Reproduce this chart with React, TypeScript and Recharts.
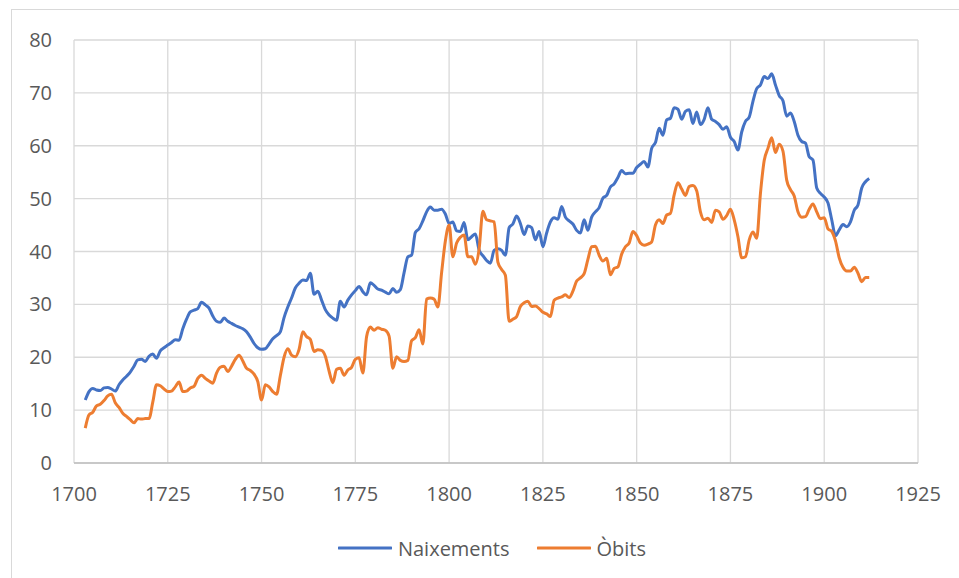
import { LineChart, Line, XAxis, YAxis, CartesianGrid, Legend } from "recharts";

// anys: 1703 - 1912
const firstYear = 1703;

const naixements = [
    11.9, 13.5, 14.1, 13.8, 13.7, 14.2, 14.3, 14.0, 13.6, 14.8,
    15.7, 16.4, 17.2, 18.3, 19.5, 19.6, 19.2, 20.2, 20.6, 19.8,
    21.2, 21.8, 22.3, 22.8, 23.3, 23.2, 25.4, 27.2, 28.6, 28.9,
    29.2, 30.4, 29.9, 29.3, 27.8, 26.8, 26.6, 27.4, 26.8, 26.4,
    26.0, 25.7, 25.4, 24.8, 23.8, 22.6, 21.8, 21.5, 21.6, 22.5,
    23.5, 24.1, 24.8, 27.5, 29.5, 31.2, 33.1, 34.0, 34.6, 34.5,
    35.9, 31.9, 32.5, 30.8, 29.0, 28.0, 27.4, 27.0, 30.6, 29.5,
    30.8, 31.8, 32.6, 33.4, 32.4, 31.8, 34.1, 33.6, 32.9, 32.7,
    32.3, 32.0, 33.0, 32.3, 32.8, 36.0, 39.0, 39.3, 43.6, 44.3,
    45.8, 47.5, 48.4, 47.8, 47.8, 48.0, 47.1, 45.3, 45.6, 43.9,
    43.8, 45.5, 42.2, 42.8, 43.3, 40.3, 39.2, 38.3, 37.8, 40.2,
    40.5, 40.2, 39.3, 44.5, 45.2, 46.7, 45.3, 43.2, 44.8, 44.5,
    42.2, 43.8, 40.9, 43.5, 45.6, 46.4, 46.1, 48.5, 46.5, 45.8,
    45.2, 44.0, 43.5, 46.0, 44.0, 46.5, 47.5, 48.3, 50.1, 50.6,
    52.2, 52.8, 54.0, 55.3, 54.7, 54.8, 54.8, 55.9, 56.5, 57.0,
    56.0, 59.5, 60.6, 63.3, 62.0, 64.9, 65.2, 67.2, 66.9, 65.0,
    66.5, 66.8, 64.2, 66.4, 64.0, 65.0, 67.2, 65.0, 64.6, 64.0,
    63.1, 63.6, 61.6, 60.8, 59.2, 62.6, 64.6, 65.4, 68.4, 70.8,
    71.5, 73.1, 72.7, 73.6, 71.5, 69.5, 68.5, 65.6, 66.2, 64.6,
    62.0, 60.8, 60.5, 57.9, 57.3, 52.0, 51.0, 50.3, 49.2, 46.0,
    43.0, 44.1, 45.1, 44.7, 45.6, 47.8, 48.8, 52.0, 53.2, 53.8,
];

const obits = [
    6.6, 9.1, 9.6, 10.8, 11.1, 11.8, 12.7, 13.0, 11.4, 10.5,
    9.4, 8.8, 8.2, 7.6, 8.4, 8.3, 8.4, 8.4, 11.5, 14.8,
    14.6, 14.0, 13.5, 13.6, 14.4, 15.3, 13.5, 13.6, 14.2, 14.5,
    16.0, 16.6, 16.0, 15.5, 15.1, 17.0, 18.1, 18.3, 17.3, 18.3,
    19.6, 20.4, 19.3, 17.9, 17.5, 16.8, 15.4, 11.9, 14.8, 14.4,
    13.5, 13.0, 16.5, 20.0, 21.6, 20.4, 20.1, 21.5, 24.8, 23.9,
    23.4, 21.1, 21.4, 21.3, 20.2, 17.4, 15.2, 17.7, 17.9, 16.6,
    17.6, 18.1, 19.6, 19.9, 17.0, 23.9, 25.7, 25.1, 25.6, 25.3,
    25.1, 24.0, 17.9, 20.1, 19.4, 19.2, 19.4, 23.1, 23.7, 25.2,
    22.5, 31.0, 31.2, 31.0, 29.5, 36.0, 42.0, 45.0, 39.0, 41.6,
    42.7, 43.1, 39.0, 39.0, 37.6, 40.5, 47.6, 46.0, 45.8, 45.6,
    38.0, 36.6, 35.5, 26.8, 27.2, 27.7, 29.6, 30.3, 30.6, 29.6,
    29.7, 29.2, 28.5, 28.2, 27.7, 30.8, 31.2, 31.4, 31.8, 31.3,
    32.5, 34.4, 35.0, 35.8, 38.5, 40.9, 41.0, 39.3, 38.2, 38.7,
    35.6, 36.8, 37.1, 39.5, 40.9, 41.6, 43.8, 43.0, 41.6, 41.2,
    41.4, 41.8, 45.0, 46.0, 45.3, 46.9, 47.2, 50.7, 53.0, 51.8,
    50.6, 52.3, 52.5, 51.5, 47.5, 46.0, 46.3, 45.5, 47.8, 47.5,
    46.1, 46.8, 48.0, 46.0, 42.8, 38.8, 39.0, 42.2, 43.7, 42.5,
    51.0, 57.2, 59.5, 61.5, 58.7, 60.3, 59.0, 53.5, 51.7, 50.5,
    47.5, 46.5, 46.6, 48.0, 49.0, 47.5, 46.2, 46.4, 44.3, 43.8,
    42.0, 38.8, 37.0, 36.3, 36.3, 37.0, 35.9, 34.3, 35.1, 35.1,
];

const xTicks = [1700, 1725, 1750, 1775, 1800, 1825, 1850, 1875, 1900, 1925];
const yTicks = [0, 10, 20, 30, 40, 50, 60, 70, 80];

const series = [
    { key: "naixements", name: "Naixements", color: "#4472C4" },
    { key: "obits", name: "Òbits", color: "#ED7D31" },
];

const data = naixements.map((n, i) => ({
    year: firstYear + i,
    naixements: n,
    obits: obits[i],
}));

const textColor = "#595959";
const font = "'Open Sans', 'Segoe UI', sans-serif";

const renderLegend = () => (
    <div style={{
        display: "flex",
        justifyContent: "center",
        alignItems: "center",
        height: 30,
        paddingLeft: 25,
        fontFamily: font,
        fontSize: 20,
        color: textColor,
    }}>
        {series.map((s, i) => (
            <div key={s.key} style={{ display: "flex", alignItems: "center", marginLeft: i === 0 ? 0 : 27 }}>
                <svg width={54} height={6} style={{ marginRight: 6 }}>
                    <line x1={1} y1={3} x2={53} y2={3} stroke={s.color} strokeWidth={3} strokeLinecap="round" />
                </svg>
                <span>{s.name}</span>
            </div>
        ))}
    </div>
);

export default function App() {
    return (
        <div style={{
            position: "absolute",
            left: 0,
            top: 0,
            width: 959,
            height: 578,
            overflow: "hidden",
            background: "#fff",
            fontFamily: font,
        }}>
            {/* marc del gràfic */}
            <div style={{
                position: "absolute",
                left: 11,
                top: 9,
                width: 1000,
                height: 700,
                border: "1px solid #d9d9d9",
            }} />
            <div style={{ position: "absolute", left: 0, top: 0 }}>
                <LineChart
                    width={959}
                    height={578}
                    data={data}
                    margin={{ top: 40, right: 41, left: 14, bottom: 15 }}
                >
                    <CartesianGrid stroke="#d9d9d9" strokeWidth={1.3} />
                    <XAxis
                        dataKey="year"
                        type="number"
                        domain={[1700, 1925]}
                        ticks={xTicks}
                        height={70}
                        tickLine={false}
                        tickSize={0}
                        tickMargin={24}
                        axisLine={{ stroke: "#bfbfbf", strokeWidth: 1.3 }}
                        tick={{ fill: textColor, fontSize: 20, fontFamily: font }}
                    />
                    <YAxis
                        type="number"
                        domain={[0, 80]}
                        ticks={yTicks}
                        width={60}
                        axisLine={false}
                        tickLine={false}
                        tickSize={0}
                        tickMargin={22}
                        tick={{ fill: textColor, fontSize: 20, fontFamily: font }}
                    />
                    <Legend
                        verticalAlign="bottom"
                        content={renderLegend}
                        wrapperStyle={{ left: 0, width: 959 }}
                    />
                    {series.map((s) => (
                        <Line
                            key={s.key}
                            type="monotone"
                            dataKey={s.key}
                            name={s.name}
                            stroke={s.color}
                            strokeWidth={3}
                            dot={false}
                            isAnimationActive={false}
                        />
                    ))}
                </LineChart>
            </div>
        </div>
    );
}
